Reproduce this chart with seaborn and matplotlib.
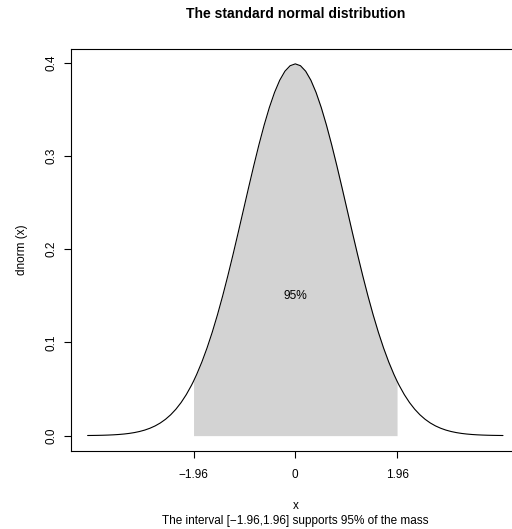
import matplotlib
matplotlib.use("Agg")
import matplotlib.pyplot as plt
import pandas as pd
import seaborn as sns

# density values of the curve (x from -4 to 4)
x_vals = [-4.0, -3.9, -3.8, -3.7, -3.6, -3.5, -3.4, -3.3, -3.2, -3.1,
          -3.0, -2.9, -2.8, -2.7, -2.6, -2.5, -2.4, -2.3, -2.2, -2.1,
          -2.0, -1.96, -1.9, -1.8, -1.7, -1.6, -1.5, -1.4, -1.3, -1.2, -1.1,
          -1.0, -0.9, -0.8, -0.7, -0.6, -0.5, -0.4, -0.3, -0.2, -0.1,
          0.0, 0.1, 0.2, 0.3, 0.4, 0.5, 0.6, 0.7, 0.8, 0.9,
          1.0, 1.1, 1.2, 1.3, 1.4, 1.5, 1.6, 1.7, 1.8, 1.9, 1.96,
          2.0, 2.1, 2.2, 2.3, 2.4, 2.5, 2.6, 2.7, 2.8, 2.9,
          3.0, 3.1, 3.2, 3.3, 3.4, 3.5, 3.6, 3.7, 3.8, 3.9, 4.0]
density = [0.00013, 0.00020, 0.00029, 0.00042, 0.00061, 0.00087, 0.00123, 0.00172, 0.00238, 0.00327,
           0.00443, 0.00595, 0.00792, 0.01042, 0.01358, 0.01753, 0.02239, 0.02833, 0.03547, 0.04398,
           0.05399, 0.05844, 0.06562, 0.07895, 0.09405, 0.11092, 0.12952, 0.14973, 0.17137, 0.19419, 0.21785,
           0.24197, 0.26609, 0.28969, 0.31225, 0.33322, 0.35207, 0.36827, 0.38139, 0.39104, 0.39695,
           0.39894, 0.39695, 0.39104, 0.38139, 0.36827, 0.35207, 0.33322, 0.31225, 0.28969, 0.26609,
           0.24197, 0.21785, 0.19419, 0.17137, 0.14973, 0.12952, 0.11092, 0.09405, 0.07895, 0.06562, 0.05844,
           0.05399, 0.04398, 0.03547, 0.02833, 0.02239, 0.01753, 0.01358, 0.01042, 0.00792, 0.00595,
           0.00443, 0.00327, 0.00238, 0.00172, 0.00123, 0.00087, 0.00061, 0.00042, 0.00029, 0.00020, 0.00013]

interval = [-1.96, 1.96]
x_ticks = [-1.96, 0, 1.96]
x_tick_labels = ["\u22121.96", "0", "1.96"]
y_ticks = [0.0, 0.1, 0.2, 0.3, 0.4]
y_tick_labels = ["0.0", "0.1", "0.2", "0.3", "0.4"]

df = pd.DataFrame({"x": x_vals, "dens": density})
inside = df[(df["x"] >= interval[0]) & (df["x"] <= interval[1])]

sns.set_style("ticks")
plt.rcParams["font.family"] = ["Liberation Sans", "DejaVu Sans"]
plt.rcParams["text.color"] = "black"
plt.rcParams["axes.labelcolor"] = "black"
plt.rcParams["xtick.color"] = "black"
plt.rcParams["ytick.color"] = "black"

fig = plt.figure(figsize=(5.12, 5.29), dpi=100)
ax = fig.add_axes([71 / 512, 1 - 450.5 / 529, 448.6 / 512, 401.5 / 529])

# shaded 95% region
ax.fill_between(inside["x"], 0, inside["dens"], color="#d3d3d3", linewidth=0)
sns.lineplot(data=df, x="x", y="dens", color="black", linewidth=0.8, ax=ax)

ax.text(0, 0.15, "95%", ha="center", va="center", fontsize=8.6, color="black")

ax.set_xlim(-4.32, 4.32)
ax.set_ylim(-0.01596, 0.41490)
ax.set_xticks(x_ticks)
ax.set_xticklabels(x_tick_labels, fontsize=8.5)
ax.set_yticks(y_ticks)
ax.set_yticklabels(y_tick_labels, fontsize=8.5, rotation=90, va="center")
ax.tick_params(direction="out", length=5, width=0.8, color="black")
ax.tick_params(axis="x", pad=8)
ax.tick_params(axis="y", pad=5)

for side in ax.spines.values():
    side.set_visible(True)
    side.set_color("black")
    side.set_linewidth(0.8)

ax.set_xlabel("x", fontsize=8.5, labelpad=14)
ax.set_ylabel("dnorm (x)", fontsize=8.5, labelpad=12)
ax.set_title("The standard normal distribution", fontsize=10.1,
             fontweight="bold", pad=22)
fig.text(295.3 / 512, 1 - 521 / 529, "The interval [\u22121.96,1.96] supports 95% of the mass",
         ha="center", va="center", fontsize=8.5)

plt.savefig("out.png", dpi=100)
plt.close()
